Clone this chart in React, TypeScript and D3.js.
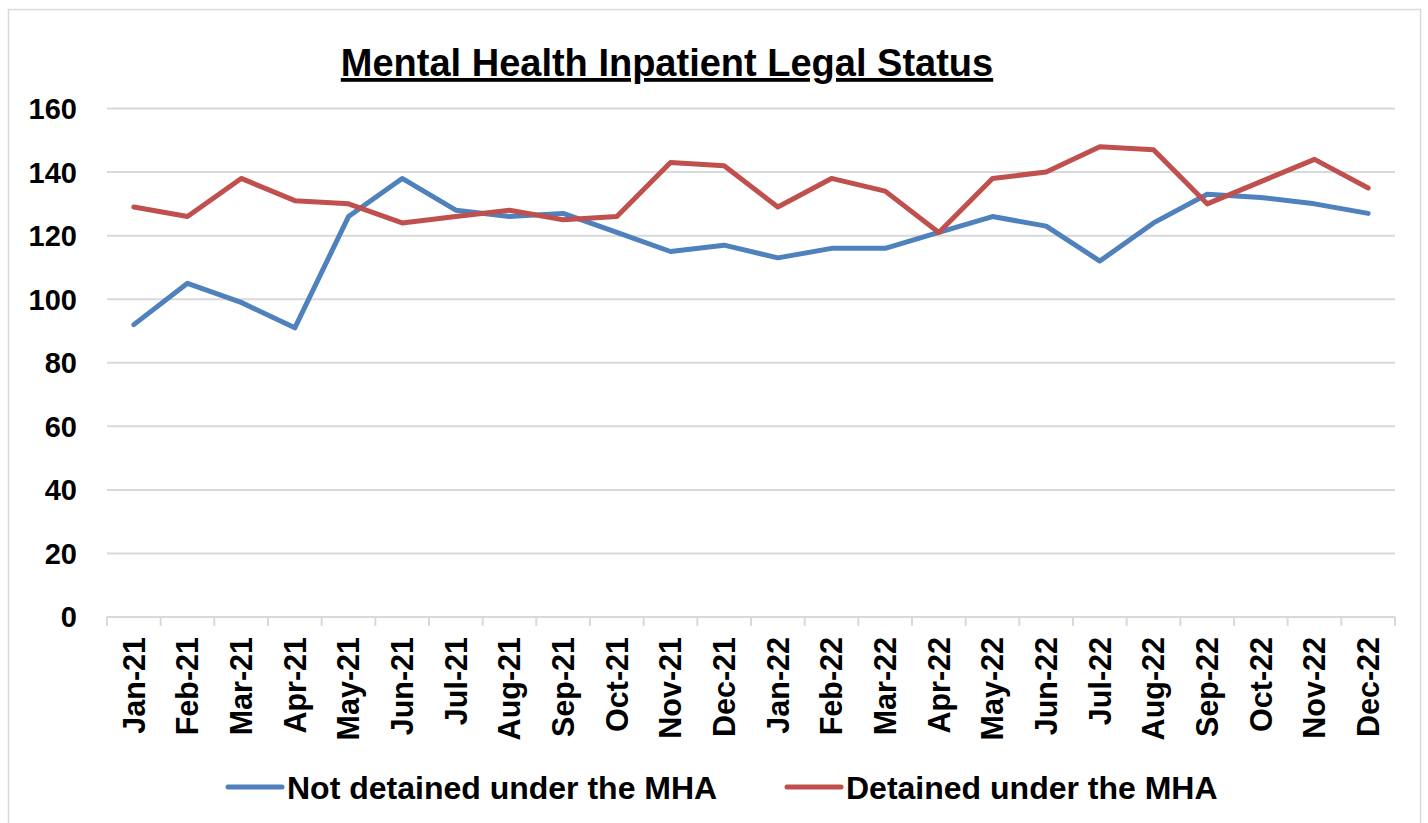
import React from "react";
import * as d3 from "d3";

const months = ["Jan-21","Feb-21","Mar-21","Apr-21","May-21","Jun-21","Jul-21","Aug-21","Sep-21","Oct-21","Nov-21","Dec-21","Jan-22","Feb-22","Mar-22","Apr-22","May-22","Jun-22","Jul-22","Aug-22","Sep-22","Oct-22","Nov-22","Dec-22"];
const notDetained = [92,105,99,91,126,138,128,126,127,121,115,117,113,116,116,121,126,123,112,124,133,132,130,127];
const detained = [129,126,138,131,130,124,126,128,125,126,143,142,129,138,134,121,138,140,148,147,130,137,144,135];
const yTicks = [0,20,40,60,80,100,120,140,160];
const seriesNames = ["Not detained under the MHA","Detained under the MHA"];
const seriesColors = ["#4F81BD","#C0504D"];

const W = 1428, H = 823;
const left = 107, right = 1395, top = 108.5, bottom = 617;
const font = "'Liberation Sans', Arial, sans-serif";

export default function App() {
  const x = d3.scaleBand<string>().domain(months).range([left, right]).padding(0);
  const y = d3.scaleLinear().domain([0, 160]).range([bottom, top]);
  const line = d3.line<number>().x((_, i) => (x(months[i]) as number) + x.bandwidth() / 2).y(d => y(d));
  const series = [notDetained, detained];
  const boundaries = months.map(m => x(m) as number).concat([right]);
  const legendX = [228, 787];
  return (
    <svg width={W} height={H} style={{ position: "absolute", left: 0, top: 0 }} fontFamily={font}>
      <rect x={0} y={0} width={W} height={H} fill="#fff" />
      <rect x={8.5} y={9.5} width={1412} height={830} fill="#fff" stroke="#D9D9D9" strokeWidth={1.5} />
      <text x={667} y={76} textAnchor="middle" fontSize={38} fontWeight="bold" textDecoration="underline">Mental Health Inpatient Legal Status</text>
      {yTicks.filter(t => t > 0).map(t => (
        <line key={t} x1={left} x2={right} y1={y(t)} y2={y(t)} stroke="#D9D9D9" strokeWidth={2} />
      ))}
      <line x1={left} x2={right} y1={bottom} y2={bottom} stroke="#D9D9D9" strokeWidth={2} />
      {boundaries.map((bx, i) => (
        <line key={i} x1={bx} x2={bx} y1={bottom} y2={bottom + 9} stroke="#D9D9D9" strokeWidth={2} />
      ))}
      {yTicks.map(t => (
        <text key={t} x={77} y={y(t)} dy="0.36em" textAnchor="end" fontSize={29} fontWeight="bold">{t}</text>
      ))}
      {months.map(m => {
        const cx = (x(m) as number) + x.bandwidth() / 2;
        return (
          <text key={m} transform={`translate(${cx},637) rotate(-90)`} textAnchor="end" dy="0.36em" fontSize={30.5} fontWeight="bold">{m}</text>
        );
      })}
      {series.map((s, i) => (
        <path key={i} d={line(s) || ""} fill="none" stroke={seriesColors[i]} strokeWidth={5} strokeLinejoin="round" strokeLinecap="round" />
      ))}
      {seriesNames.map((n, i) => (
        <g key={n}>
          <line x1={legendX[i]} x2={legendX[i] + 54} y1={787} y2={787} stroke={seriesColors[i]} strokeWidth={5} strokeLinecap="round" />
          <text x={legendX[i] + 59} y={787} dy="0.36em" fontSize={32} fontWeight="bold">{n}</text>
        </g>
      ))}
    </svg>
  );
}
